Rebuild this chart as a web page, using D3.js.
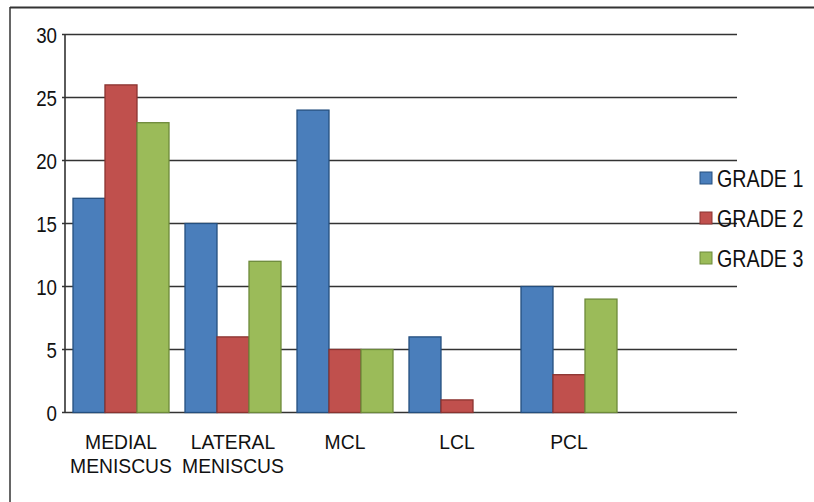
<!DOCTYPE html>
<html lang="en">
<head>
  <meta charset="utf-8">
  <script src="https://d3js.org/d3.v7.min.js"></script>
  <style>
    body { margin: 0; background: #fff; }
    text { font-family: "Liberation Sans", Arial, sans-serif; fill: #111; }
  </style>
</head>
<body>
<script>
  var categories = ["MEDIAL MENISCUS", "LATERAL MENISCUS", "MCL", "LCL", "PCL"];
  var series = ["GRADE 1", "GRADE 2", "GRADE 3"];
  var grade1 = [17, 15, 24, 6, 10];
  var grade2 = [26, 6, 5, 1, 3];
  var grade3 = [23, 12, 5, 0, 9];
  var yTicks = [0, 5, 10, 15, 20, 25, 30];

  var colors = ["#4a7ebb", "#c0504d", "#9bbb59"];
  var strokes = ["#244f7f", "#8a3330", "#6d8a3a"];

  var w = 814, h = 502;
  var svg = d3.select("body").append("svg")
    .attr("width", w).attr("height", h);

  // frame (only top and left edges show)
  svg.append("line").attr("x1", 10).attr("x2", w).attr("y1", 7.5).attr("y2", 7.5)
    .attr("stroke", "#333").attr("stroke-width", 2);
  svg.append("line").attr("x1", 10).attr("x2", 10).attr("y1", 7).attr("y2", h)
    .attr("stroke", "#333").attr("stroke-width", 1.5);

  var left = 65, gridRight = 737, step = 112;
  // 112px per category, 8px inset each side
  var x = d3.scaleBand().domain(categories)
    .range([left + 8, left + 8 + step * categories.length - 16])
    .paddingInner(16 / 112);
  var xs = d3.scaleBand().domain(series).range([0, x.bandwidth()]);
  var y = d3.scaleLinear().domain([0, 30]).range([412.5, 34.5]);

  // gridlines
  svg.append("g").selectAll("line").data(yTicks).enter().append("line")
    .attr("x1", left - 3).attr("x2", gridRight)
    .attr("y1", function (d) { return y(d); })
    .attr("y2", function (d) { return y(d); })
    .attr("stroke", "#333").attr("stroke-width", 1.6);
  svg.append("line").attr("x1", left).attr("x2", left)
    .attr("y1", y(30)).attr("y2", y(0))
    .attr("stroke", "#333").attr("stroke-width", 1.6);

  // y tick labels
  svg.append("g").selectAll("text").data(yTicks).enter().append("text")
    .attr("transform", function (d) { return "translate(57," + (y(d) + 8) + ") scale(0.85,1)"; })
    .attr("text-anchor", "end")
    .style("font-size", "22px")
    .text(function (d) { return d; });

  // bars
  var values = [grade1, grade2, grade3];
  categories.forEach(function (c, ci) {
    series.forEach(function (s, si) {
      var v = values[si][ci];
      if (v <= 0) return;
      svg.append("rect")
        .attr("x", x(c) + xs(s))
        .attr("y", y(v))
        .attr("width", xs.bandwidth())
        .attr("height", y(0) - y(v))
        .attr("fill", colors[si])
        .attr("stroke", strokes[si])
        .attr("stroke-width", 1.3);
    });
  });

  // x labels, words on separate lines
  categories.forEach(function (c) {
    var cx = x(c) + x.bandwidth() / 2;
    c.split(" ").forEach(function (wd, i) {
      svg.append("text")
        .attr("transform", "translate(" + cx + "," + (449 + i * 24) + ") scale(0.92,1)")
        .attr("text-anchor", "middle")
        .style("font-size", "21px")
        .text(wd);
    });
  });

  // legend
  var legendY = [178, 218, 258];
  series.forEach(function (s, si) {
    svg.append("rect")
      .attr("x", 700).attr("y", legendY[si] - 6)
      .attr("width", 12).attr("height", 12)
      .attr("fill", colors[si]).attr("stroke", strokes[si]).attr("stroke-width", 1);
    svg.append("text")
      .attr("transform", "translate(717," + (legendY[si] + 8.5) + ") scale(0.82,1)")
      .style("font-size", "24px")
      .text(s);
  });
</script>
</body>
</html>
